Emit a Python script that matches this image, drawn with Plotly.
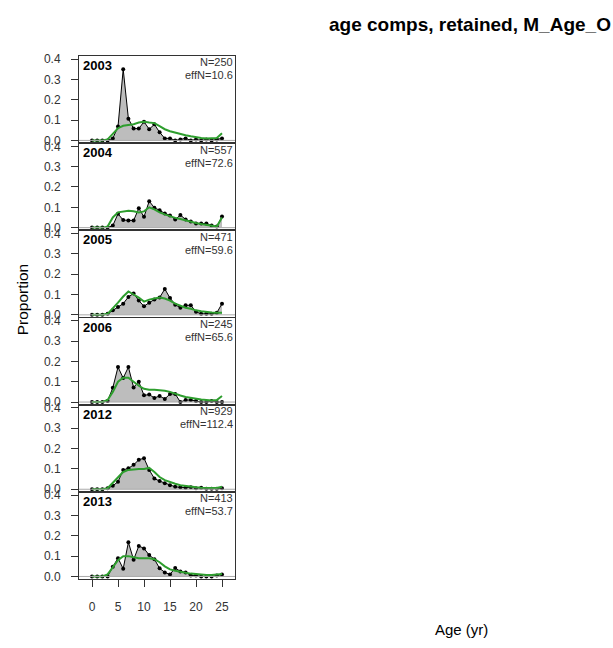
import plotly.graph_objects as go

ages = list(range(26))
years = ["2003", "2004", "2005", "2006", "2012", "2013"]
n_labels = ["N=250", "N=557", "N=471", "N=245", "N=929", "N=413"]
effn_labels = ["effN=10.6", "effN=72.6", "effN=59.6", "effN=65.6", "effN=112.4", "effN=53.7"]

obs_2003 = [0, 0, 0, 0, 0.01, 0.068, 0.35, 0.107, 0.058, 0.058, 0.092, 0.055, 0.079, 0.04,
            0.01, 0.01, 0.0, 0.005, 0.01, 0.0, 0.005, 0.0, 0.005, 0.0, 0.005, 0.01]
exp_2003 = [0, 0, 0, 0.005, 0.03, 0.06, 0.072, 0.075, 0.08, 0.088, 0.092, 0.088, 0.085, 0.07,
            0.055, 0.045, 0.038, 0.03, 0.025, 0.02, 0.015, 0.012, 0.01, 0.01, 0.012, 0.035]
obs_2004 = [0, 0, 0, 0, 0.01, 0.068, 0.037, 0.035, 0.035, 0.095, 0.053, 0.13, 0.098, 0.085,
            0.07, 0.06, 0.04, 0.062, 0.04, 0.03, 0.02, 0.02, 0.02, 0.01, 0.005, 0.055]
exp_2004 = [0, 0, 0, 0.005, 0.05, 0.075, 0.08, 0.083, 0.08, 0.075, 0.08, 0.1, 0.09, 0.075,
            0.065, 0.055, 0.048, 0.042, 0.035, 0.028, 0.023, 0.018, 0.014, 0.012, 0.005, 0.05]
obs_2005 = [0, 0, 0, 0.005, 0.023, 0.038, 0.055, 0.088, 0.105, 0.07, 0.042, 0.06, 0.075, 0.085,
            0.127, 0.083, 0.05, 0.035, 0.047, 0.047, 0.015, 0.005, 0.005, 0.005, 0.01, 0.055]
exp_2005 = [0, 0, 0, 0.005, 0.03, 0.06, 0.09, 0.115, 0.1, 0.085, 0.065, 0.075, 0.08, 0.085,
            0.08, 0.07, 0.055, 0.045, 0.035, 0.03, 0.022, 0.018, 0.014, 0.012, 0.01, 0.01]
obs_2006 = [0, 0, 0, 0.005, 0.07, 0.172, 0.118, 0.172, 0.072, 0.1, 0.033, 0.037, 0.02, 0.03,
            0.015, 0.04, 0.04, 0.0, 0.01, 0.01, 0.005, 0.0, 0.0, 0.005, 0.0, 0.0]
exp_2006 = [0, 0, 0, 0.01, 0.05, 0.1, 0.12, 0.12, 0.1, 0.08, 0.065, 0.06, 0.06, 0.058,
            0.055, 0.05, 0.04, 0.032, 0.025, 0.02, 0.015, 0.012, 0.01, 0.008, 0.01, 0.03]
obs_2012 = [0, 0, 0, 0.005, 0.017, 0.037, 0.095, 0.103, 0.12, 0.145, 0.153, 0.095, 0.053, 0.04,
            0.03, 0.02, 0.012, 0.01, 0.008, 0.01, 0.005, 0.008, 0.003, 0.003, 0.003, 0.005]
exp_2012 = [0, 0, 0, 0.005, 0.03, 0.06, 0.085, 0.095, 0.098, 0.1, 0.1, 0.105, 0.085, 0.06,
            0.045, 0.035, 0.027, 0.02, 0.016, 0.013, 0.01, 0.008, 0.007, 0.006, 0.006, 0.012]
obs_2013 = [0, 0, 0, 0, 0.048, 0.09, 0.038, 0.168, 0.082, 0.15, 0.138, 0.105, 0.085, 0.04,
            0.02, 0.01, 0.042, 0.025, 0.02, 0.005, 0.005, 0.0, 0.0, 0.0, 0.005, 0.01]
exp_2013 = [0, 0, 0, 0.01, 0.045, 0.08, 0.1, 0.1, 0.095, 0.09, 0.09, 0.09, 0.085, 0.07,
            0.05, 0.035, 0.028, 0.022, 0.018, 0.014, 0.011, 0.009, 0.007, 0.007, 0.008, 0.012]

observed = [obs_2003, obs_2004, obs_2005, obs_2006, obs_2012, obs_2013]
expected = [exp_2003, exp_2004, exp_2005, exp_2006, exp_2012, exp_2013]

y_ticks = [0, 0.1, 0.2, 0.3, 0.4]
y_tick_labels = ["0.0", "0.1", "0.2", "0.3", "0.4"]
x_ticks = [0, 5, 10, 15, 20, 25]

W, H = 613, 648
left_px, right_px = 79, 235
top_px, panel_h = 52.7, 88.3

FONT = "Liberation Sans, Arial, sans-serif"
GREEN = "#2e9e2e"
FILL = "#bdbdbd"

fig = go.Figure()
layout = dict(
    width=W, height=H, margin=dict(l=0, r=0, t=0, b=0),
    paper_bgcolor="white", plot_bgcolor="white", showlegend=False,
    font=dict(family=FONT, color="black"),
)
annotations = []
shapes = []

for i, yr in enumerate(years):
    k = "" if i == 0 else str(i + 1)
    xa, ya = "x" + k, "y" + k
    t = top_px + panel_h * i
    b = t + panel_h
    dom_y = [1 - b / H, 1 - t / H]
    bottom = i == len(years) - 1
    layout["xaxis" + k] = dict(
        domain=[left_px / W, right_px / W], range=[-2.5, 27.5], anchor=ya,
        showgrid=False, zeroline=False, showline=True, mirror=True,
        linecolor="#333333", linewidth=1,
        tickmode="array", tickvals=x_ticks, ticks="outside" if bottom else "",
        ticklen=7, tickcolor="#333333", showticklabels=bottom, ticklabelstandoff=9,
        tickfont=dict(size=12, family=FONT, color="#333333"),
    )
    layout["yaxis" + k] = dict(
        domain=dom_y, range=[-0.014, 0.415], anchor=xa,
        showgrid=False, zeroline=False, showline=True, mirror=True,
        linecolor="#333333", linewidth=1,
        tickmode="array", tickvals=y_ticks, ticktext=y_tick_labels,
        ticks="outside", ticklen=7, tickcolor="#333333", ticklabelstandoff=8,
        tickfont=dict(size=12, family=FONT, color="#333333"),
    )
    shapes.append(dict(type="line", xref=xa + " domain", yref=ya, x0=0, x1=1, y0=0, y1=0,
                       line=dict(color="#aaaaaa", width=1)))
    fig.add_trace(go.Scatter(
        x=ages, y=observed[i], xaxis=xa, yaxis=ya, mode="lines+markers",
        fill="tozeroy", fillcolor=FILL, line=dict(color="black", width=1),
        marker=dict(color="black", size=4),
    ))
    fig.add_trace(go.Scatter(
        x=ages, y=expected[i], xaxis=xa, yaxis=ya, mode="lines",
        line=dict(color=GREEN, width=2),
    ))
    annotations.append(dict(text="<b>" + yr + "</b>", xref=xa + " domain", yref=ya + " domain",
                            x=0.01, y=1.0, xanchor="left", yanchor="top", showarrow=False,
                            font=dict(size=13, family=FONT, color="black")))
    annotations.append(dict(text=n_labels[i], xref=xa + " domain", yref=ya + " domain",
                            x=1.0, y=1.02, xanchor="right", yanchor="top", showarrow=False,
                            font=dict(size=11, family=FONT, color="#333333")))
    annotations.append(dict(text=effn_labels[i], xref=xa + " domain", yref=ya + " domain",
                            x=1.0, y=0.87, xanchor="right", yanchor="top", showarrow=False,
                            font=dict(size=11, family=FONT, color="#333333")))

annotations.append(dict(text="<b>age comps, retained, M_Age_O</b>", xref="paper", yref="paper",
                        x=327 / W, y=1 - 21 / H, xanchor="left", yanchor="middle", showarrow=False,
                        font=dict(size=19, family=FONT, color="black")))
annotations.append(dict(text="Age (yr)", xref="paper", yref="paper",
                        x=461 / W, y=1 - 633 / H, xanchor="center", yanchor="middle", showarrow=False,
                        font=dict(size=15, family=FONT, color="black")))
annotations.append(dict(text="Proportion", xref="paper", yref="paper", textangle=-90,
                        x=22 / W, y=1 - 299 / H, xanchor="center", yanchor="middle", showarrow=False,
                        font=dict(size=15.5, family=FONT, color="black")))

layout["annotations"] = annotations
layout["shapes"] = shapes
fig.update_layout(**layout)
fig.write_html("out.html", config={"displayModeBar": False},
               post_script="document.body.style.margin='0';document.body.style.overflow='hidden';")
